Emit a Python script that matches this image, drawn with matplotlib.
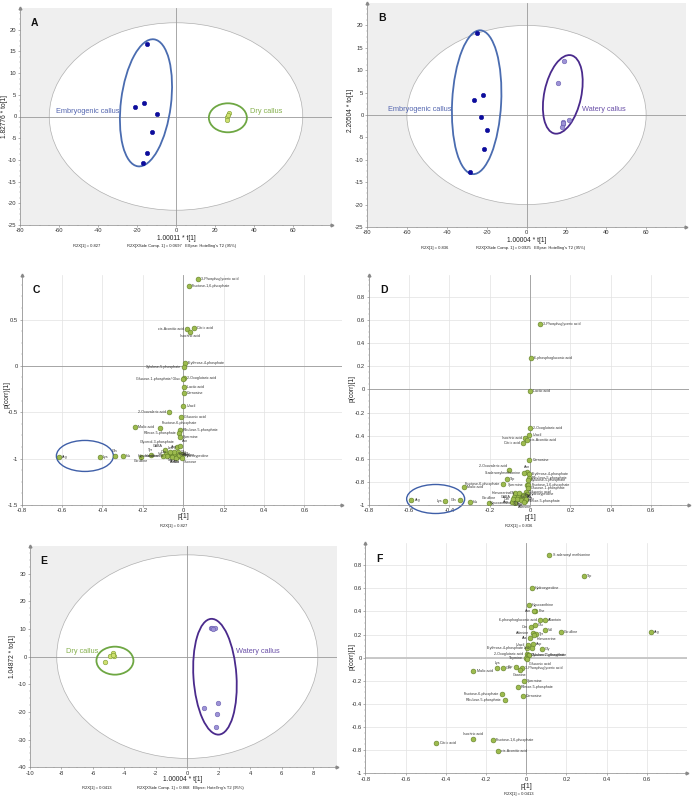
import matplotlib
matplotlib.use("Agg")
import matplotlib.pyplot as plt
from matplotlib.patches import Ellipse
from matplotlib.transforms import ScaledTranslation
from matplotlib.ticker import FuncFormatter, AutoMinorLocator

plt.rcParams['font.family'] = ['Liberation Sans', 'DejaVu Sans']

W, H = 694, 799

# ---------------- score plots (A, B, E) ----------------
a_emb_x = [-15.0, -21.0, -16.2, -9.7, -12.1, -15.0, -17.1]
a_emb_y = [16.7, 2.3, 3.15, 0.5, -3.5, -8.5, -10.8]
a_dry_x = [27.2, 26.0, 26.2, 26.6]
a_dry_y = [0.7, -0.2, -0.9, 0.3]

b_emb_x = [-24.7, -21.8, -26.5, -22.7, -20.0, -21.3, -28.5]
b_emb_y = [18.35, 4.57, 3.3, -0.45, -3.3, -7.5, -12.66]
b_wat_x = [18.8, 15.8, 21.2, 18.5, 18.3, 18.0, 18.3]
b_wat_y = [12.06, 7.1, -1.1, -1.5, -2.1, -2.7, -1.8]

e_dry_x = [-4.7, -4.9, -4.66, -5.2, -4.75]
e_dry_y = [1.2, 0.36, 0.1, -1.8, 0.7]
e_wat_x = [1.5, 1.6, 1.75, 1.65, 1.97, 1.06, 1.89, 1.8]
e_wat_y = [10.2, 10.2, 10.2, 10.1, -16.6, -18.6, -20.7, -25.5]

# ---------------- loading plots (C, D, F) ----------------
c_names = ['3-Phosphoglyceric acid', 'Fructose-1,6-phosphate', 'Citric acid', 'cis-Aconitic acid',
           'Isocitric acid', 'Erythrose-4-phosphate', 'Xylulose-5-phosphate', '2-Oxoglutaric acid',
           'Glucose-1-phosphate/ Gluc', 'Lactic acid', 'Carnosine', 'Uracil', '2-Oxovaleric acid',
           'Gluconic acid', 'Fructose-6-phosphate', 'Malic acid', 'Ribulose-5-phosphate',
           'Ribose-5-phosphate', 'Spermine', 'Glycerol-3-phosphate', 'Asn', 'GABA', 'Tyr',
           'Citrulline', 'His', 'Gln', 'Lys', 'Arg',
           'Val', 'Ile', 'Leu', 'Phe', 'Trp', 'Met', 'Ser', 'Thr', 'Gly', 'Ala', 'Pro', 'Glu',
           'Asp', 'Orn', 'Hydroxyproline', 'Homoserine', 'Adenine', 'Hypoxanthine', 'Sucrose']
c_x = [0.071, 0.027, 0.053, 0.020, 0.034, 0.007, 0.005, 0.002, 0.000, 0.002, 0.002, 0.000, -0.070,
       -0.010, -0.115, -0.241, -0.018, -0.020, -0.015, -0.030, -0.015, -0.090, -0.160,
       -0.207, -0.300, -0.340, -0.413, -0.616,
       -0.085, -0.070, -0.060, -0.050, -0.040, -0.030, -0.020, -0.012, -0.005, -0.055, -0.035,
       -0.025, -0.045, -0.065, -0.010, -0.080, -0.020, -0.100, -0.008]
c_y = [0.934, 0.858, 0.409, 0.398, 0.369, 0.026, -0.007, -0.131, -0.140, -0.230, -0.288, -0.434,
       -0.496, -0.551, -0.668, -0.664, -0.693, -0.723, -0.770, -0.870, -0.860, -0.910, -0.956,
       -0.978, -0.974, -0.970, -0.978, -0.978,
       -0.950, -0.965, -0.940, -0.970, -0.955, -0.980, -0.945, -0.965, -0.950, -0.985, -0.990,
       -0.930, -0.925, -0.930, -0.975, -0.975, -0.960, -0.970, -0.990]
c_side = ['r', 'r', 'r', 'l', 'b', 'r', 'l', 'r', 'l', 'r', 'r', 'r', 'l', 'r', 'ar', 'r', 'r', 'l',
          'r', 'al', 'ar', 'al', 'a', 'b', 'r', 'a', 'r', 'r',
          'l', 'b', 'a', 'b', 'r', 'b', 'r', 'r', 'r', 'b', 'b', 'r', 'a', 'l', 'r', 'l', 'r',
          'l', 'br']

d_names = ['3-Phosphoglyceric acid', '6-phosphogluconic acid', 'Lactic acid', '2-Oxoglutaric acid',
           'Uracil', 'Isocitric acid', 'cis-Aconitic acid', 'Citric acid', 'Carnosine',
           '2-Oxovaleric acid', 'Asn', 'Erythrose-4-phosphate', 'S-adenosylmethionine',
           'Ribulose-5-phosphate', 'Xylulose-5-phosphate', 'Trp', 'Fructose-6-phosphate',
           'Malic acid', 'Spermine', 'Fructose-1,6-phosphate', 'Glucose-1-phosphate',
           'Gluconic acid', 'Homoserine', 'GABA', 'Citrulline', 'His', 'Gln', 'Lys', 'Arg',
           'Ribose-5-phosphate', 'Asp', 'Val', 'Leu', 'Phe', 'Ile', 'Ala', 'Gly', 'Ser',
           'Thr', 'Pro', 'Glu', 'Orn', 'Hydroxyproline', 'Adenine', 'Hypoxanthine']
d_x = [0.048, 0.007, 0.000, -0.002, -0.003, -0.025, -0.013, -0.036, -0.003, -0.102, -0.013,
       -0.007, -0.030, -0.005, -0.009, -0.114, -0.135, -0.329, -0.015, -0.008, -0.010, -0.020,
       -0.075, -0.080, -0.203, -0.300, -0.347, -0.420, -0.588, -0.025,
       -0.090, -0.060, -0.050, -0.040, -0.070, -0.030, -0.055, -0.045, -0.035, -0.065,
       -0.020, -0.085, -0.015, -0.028, -0.075]
d_y = [0.564, 0.268, -0.012, -0.332, -0.396, -0.420, -0.440, -0.465, -0.611, -0.698, -0.715,
       -0.736, -0.722, -0.765, -0.780, -0.774, -0.817, -0.840, -0.830, -0.830, -0.850, -0.890,
       -0.895, -0.930, -0.980, -0.970, -0.960, -0.969, -0.954, -0.965,
       -0.975, -0.930, -0.950, -0.910, -0.960, -0.935, -0.900, -0.960, -0.920, -0.945,
       -0.945, -0.950, -0.905, -0.975, -0.985]
d_side = ['r', 'r', 'r', 'r', 'r', 'l', 'r', 'l', 'r', 'al', 'a', 'r', 'l', 'r', 'r', 'r', 'l',
          'r', 'l', 'r', 'r', 'r', 'l', 'l', 'a', 'r', 'l', 'l', 'r', 'r',
          'l', 'r', 'b', 'r', 'b', 'r', 'l', 'b', 'r', 'b', 'r', 'l', 'r', 'b', 'l']

f_names = ['S-adenosyl methionine', 'Trp', 'Hydroxyproline', 'Hypoxanthine', 'Phe', 'Asn',
           '6-phosphogluconic acid', 'Allantoin', 'Orn', 'Glu', 'Val', 'Citrulline', 'Arg',
           'Adenine', 'Tyr', 'Ala', 'Homoserine', 'Uracil', 'Asp', 'Leu', 'Gly',
           'Erythrose-4-phosphate', '2-Oxoglutaric acid', 'Glucose-1-phosphate',
           'Xylulose-5-phosphate', 'Thymine', 'Gluconic acid', 'Lys', 'Gln', 'Malic acid',
           '3-Phosphoglyceric acid', 'Ser', 'Guanine', 'Spermine', 'Ribose-5-phosphate',
           'Fructose-6-phosphate', 'Carnosine', 'Ribulose-5-phosphate', 'Isocitric acid',
           'Citric acid', 'Fructose-1,6-phosphate', 'cis-Aconitic acid']
f_x = [0.116, 0.288, 0.027, 0.012, 0.045, 0.038, 0.070, 0.093, 0.025, 0.045, 0.093, 0.172, 0.621,
       0.033, 0.050, 0.020, 0.040, 0.008, 0.036, 0.031, 0.078, 0.005, 0.003, 0.010, 0.012,
       0.000, 0.003, -0.144, -0.116, -0.262, -0.022, -0.050, -0.033, -0.013, -0.040, -0.121,
       -0.018, -0.106, -0.265, -0.446, -0.166, -0.141]
f_y = [0.892, 0.708, 0.604, 0.454, 0.408, 0.400, 0.327, 0.325, 0.262, 0.280, 0.238, 0.223, 0.223,
       0.210, 0.204, 0.174, 0.200, 0.110, 0.115, 0.086, 0.074, 0.085, 0.031, 0.025, 0.020,
       -0.006, -0.015, -0.085, -0.085, -0.113, -0.085, -0.080, -0.107, -0.200, -0.254, -0.315,
       -0.332, -0.366, -0.703, -0.740, -0.715, -0.807]
f_side = ['r', 'r', 'r', 'r', 'r', 'l', 'l', 'r', 'l', 'r', 'r', 'r', 'r', 'l', 'r', 'l', 'br',
          'l', 'r', 'l', 'r', 'l', 'l', 'r', 'r', 'l', 'br', 'a', 'r', 'r', 'r', 'l', 'b', 'r',
          'r', 'l', 'r', 'l', 'a', 'r', 'r', 'r']

fig = plt.figure(figsize=(W / 100, H / 100), dpi=100)


def new_axes(l, t, r, b):
    return fig.add_axes([l / W, 1 - b / H, (r - l) / W, (b - t) / H])


def ftext(x, y, s, **kw):
    kw.setdefault('fontsize', 3.2)
    kw.setdefault('color', '#222222')
    fig.text(x / W, 1 - y / H, s, **kw)


def ring(ax, cx, cy, w, h, ang, color, lw=1.3):
    # group outline, size in inches, centre in data units
    tr = fig.dpi_scale_trans + ScaledTranslation(cx, cy, ax.transData)
    ax.add_patch(Ellipse((0, 0), w, h, angle=ang, transform=tr, fill=False,
                         edgecolor=color, lw=lw, zorder=2, clip_on=False))


def base_axes(ax, xlim, ylim, xticks, yticks, letter):
    ax.set_xlim(*xlim)
    ax.set_ylim(*ylim)
    ax.set_xticks(xticks)
    ax.set_yticks(yticks)
    fmt = FuncFormatter(lambda v, p: '%g' % round(v, 3))
    ax.xaxis.set_major_formatter(fmt)
    ax.yaxis.set_major_formatter(fmt)
    ax.xaxis.set_minor_locator(AutoMinorLocator(4))
    ax.yaxis.set_minor_locator(AutoMinorLocator(4))
    ax.tick_params(labelsize=4.2, length=1.5, width=0.4, color='#777777', labelcolor='#333333', pad=1)
    ax.tick_params(which='minor', length=0.8, width=0.3, color='#999999')
    for s in ('top', 'right'):
        ax.spines[s].set_visible(False)
    for s in ('left', 'bottom'):
        ax.spines[s].set_color('#888888')
        ax.spines[s].set_linewidth(0.5)
    ax.axhline(0, color='#9a9a9a', lw=0.6, zorder=1)
    ax.axvline(0, color='#9a9a9a', lw=0.6, zorder=1)
    ax.plot(0, 1, marker='^', ms=2, color='#888888', transform=ax.transAxes, clip_on=False)
    ax.plot(1, 0, marker='>', ms=2, color='#888888', transform=ax.transAxes, clip_on=False)
    ax.text(0.035, 0.955, letter, transform=ax.transAxes, fontsize=7.5, fontweight='bold',
            va='top', ha='left', color='#111111')


def score_axes(ax, t2):
    ax.set_facecolor('#efefef')
    ax.add_patch(Ellipse((0, 0), 2 * t2[0], 2 * t2[1], facecolor='white',
                         edgecolor='#b0b0b0', lw=0.5, zorder=0.5))


def dots(ax, xs, ys, face, edge, s=11):
    ax.scatter(xs, ys, s=s, c=face, edgecolors=edge, linewidths=0.4, zorder=3)


offs = {'r': (2.2, 0, 'left', 'center'), 'l': (-2.2, 0, 'right', 'center'),
        'a': (0, 2.0, 'center', 'bottom'), 'b': (0, -2.0, 'center', 'top'),
        'ar': (1.5, 1.8, 'left', 'bottom'), 'al': (-1.5, 1.8, 'right', 'bottom'),
        'br': (1.5, -1.8, 'left', 'top')}


def loading_axes(ax, names, xs, ys, sides):
    ax.grid(True, color='#e2e2e2', lw=0.5)
    ax.set_axisbelow(True)
    dots(ax, xs, ys, '#9dbb4e', '#5f7d27', s=12)
    for n, x, y, sd in zip(names, xs, ys, sides):
        dx, dy, ha, va = offs[sd]
        ax.annotate(n, (x, y), xytext=(dx, dy), textcoords='offset points', ha=ha, va=va,
                    fontsize=2.6, color='#333333', zorder=4)


blue_ring = '#4a6cb0'
green_ring = '#6ea743'
purple_ring = '#4a2a8c'
navy = '#0c0c9c'
lime = '#cfe070'
lime_edge = '#7a9a30'
lav = '#9d92d6'
lav_edge = '#6a5fb0'

# ---- A ----
ax = new_axes(20, 8, 332, 225)
score_axes(ax, (65, 21.6))
base_axes(ax, (-80, 80), (-25, 25), range(-80, 61, 20), range(-25, 21, 5), 'A')
dots(ax, a_emb_x, a_emb_y, navy, navy, s=10)
dots(ax, a_dry_x, a_dry_y, lime, lime_edge, s=10)
ring(ax, -15.4, 3.15, 0.50, 1.28, -7.2, blue_ring)
ring(ax, 26.6, -0.3, 0.38, 0.29, 0, green_ring)
ax.text(-61.6, 1.2, 'Embryogenic callus', color='#5567b0', fontsize=5.3, va='center')
ax.text(37.7, 1.2, 'Dry callus', color='#86b04e', fontsize=5.3, va='center')
ftext(176, 238.5, '1.00011 * t[1]', fontsize=4.8, ha='center', va='center')
ftext(73, 246, 'R2X[1] = 0.827', va='center', fontsize=3)
ftext(127, 246, "R2X[XSide Comp. 1] = 0.0697   Ellipse: Hotelling's T2 (95%)", va='center', fontsize=3)
ftext(5, 117, '1.82776 * to[1]', fontsize=4.8, rotation=90, ha='center', va='center')

# ---- B ----
ax = new_axes(367, 3, 686, 227)
score_axes(ax, (60, 20))
base_axes(ax, (-80, 80), (-25, 25), range(-80, 61, 20), range(-25, 21, 5), 'B')
dots(ax, b_emb_x, b_emb_y, navy, navy, s=10)
dots(ax, b_wat_x, b_wat_y, lav, lav_edge, s=11)
ring(ax, -25.0, 2.85, 0.49, 1.44, -3, blue_ring)
ring(ax, 18.2, 4.6, 0.37, 0.80, -12, purple_ring)
ax.text(-69.5, 1.27, 'Embryogenic callus', color='#5567b0', fontsize=5.3, va='center')
ax.text(28, 1.27, 'Watery callus', color='#6a50a8', fontsize=5.3, va='center')
ftext(527, 240, '1.00004 * t[1]', fontsize=4.8, ha='center', va='center')
ftext(421, 247.5, 'R2X[1] = 0.836', va='center', fontsize=3)
ftext(476, 247.5, "R2X[XSide Comp. 1] = 0.0925   Ellipse: Hotelling's T2 (95%)", va='center', fontsize=3)
ftext(351, 110, '2.20504 * to[1]', fontsize=4.8, rotation=90, ha='center', va='center')

# ---- C ----
ax = new_axes(21.7, 275, 341.7, 505)
base_axes(ax, (-0.8, 0.785), (-1.5, 0.98), [-0.8, -0.6, -0.4, -0.2, 0, 0.2, 0.4, 0.6],
          [-1.5, -1, -0.5, 0, 0.5], 'C')
loading_axes(ax, c_names, c_x, c_y, c_side)
ring(ax, -0.487, -0.971, 0.57, 0.31, 0, '#3f5fa8', lw=1.0)
ftext(183, 516, 'p[1]', fontsize=5, ha='center', va='center')
ftext(174, 526, 'R2X[1] = 0.827', ha='center', va='center', fontsize=3)
ftext(7, 395, 'p(corr)[1]', fontsize=4.8, rotation=90, ha='center', va='center')

# ---- D ----
ax = new_axes(368.7, 275, 688.7, 505)
base_axes(ax, (-0.8, 0.787), (-1.0, 0.99), [-0.8, -0.6, -0.4, -0.2, 0, 0.2, 0.4, 0.6],
          [-1, -0.8, -0.6, -0.4, -0.2, 0, 0.2, 0.4, 0.6, 0.8], 'D')
loading_axes(ax, d_names, d_x, d_y, d_side)
ring(ax, -0.468, -0.948, 0.58, 0.29, 0, '#3f5fa8', lw=1.0)
ftext(530, 517.5, 'p[1]', fontsize=5, ha='center', va='center')
ftext(519, 526, 'R2X[1] = 0.836', ha='center', va='center', fontsize=3)
ftext(352, 388, 'p(corr)[1]', fontsize=4.8, rotation=90, ha='center', va='center')

# ---- E ----
ax = new_axes(30, 546, 336.7, 767.3)
score_axes(ax, (8.3, 36.8))
base_axes(ax, (-10, 9.5), (-40, 40), range(-10, 9, 2), range(-40, 31, 10), 'E')
dots(ax, e_dry_x, e_dry_y, lime, lime_edge, s=11)
dots(ax, e_wat_x, e_wat_y, lav, lav_edge, s=11)
ring(ax, -4.6, -1.45, 0.37, 0.28, 0, green_ring)
ring(ax, 1.76, -7.26, 0.43, 1.16, 3.8, purple_ring)
ax.text(-7.73, 1.93, 'Dry callus', color='#86b04e', fontsize=5.3, va='center')
ax.text(3.07, 1.93, 'Watery callus', color='#6a50a8', fontsize=5.3, va='center')
ftext(183, 779.5, '1.00004 * t[1]', fontsize=4.8, ha='center', va='center')
ftext(82, 788, 'R2X[1] = 0.0413', va='center', fontsize=3)
ftext(137, 788, "R2X[XSide Comp. 1] = 0.868   Ellipse: Hotelling's T2 (95%)", va='center', fontsize=3)
ftext(13, 657, '1.04872 * to[1]', fontsize=4.8, rotation=90, ha='center', va='center')

# ---- F ----
ax = new_axes(365.3, 543.3, 687, 773.3)
base_axes(ax, (-0.8, 0.8), (-1.0, 0.99), [-0.8, -0.6, -0.4, -0.2, 0, 0.2, 0.4, 0.6],
          [-1, -0.8, -0.6, -0.4, -0.2, 0, 0.2, 0.4, 0.6, 0.8], 'F')
ax.axhline(0, color='#c8c8c8', lw=1.4, zorder=1)
loading_axes(ax, f_names, f_x, f_y, f_side)
ftext(526, 786, 'p[1]', fontsize=5, ha='center', va='center')
ftext(519, 794, 'R2X[1] = 0.0413', ha='center', va='center', fontsize=3)
ftext(352, 657, 'p(corr)[1]', fontsize=4.8, rotation=90, ha='center', va='center')

fig.savefig('out.png', dpi=100)
